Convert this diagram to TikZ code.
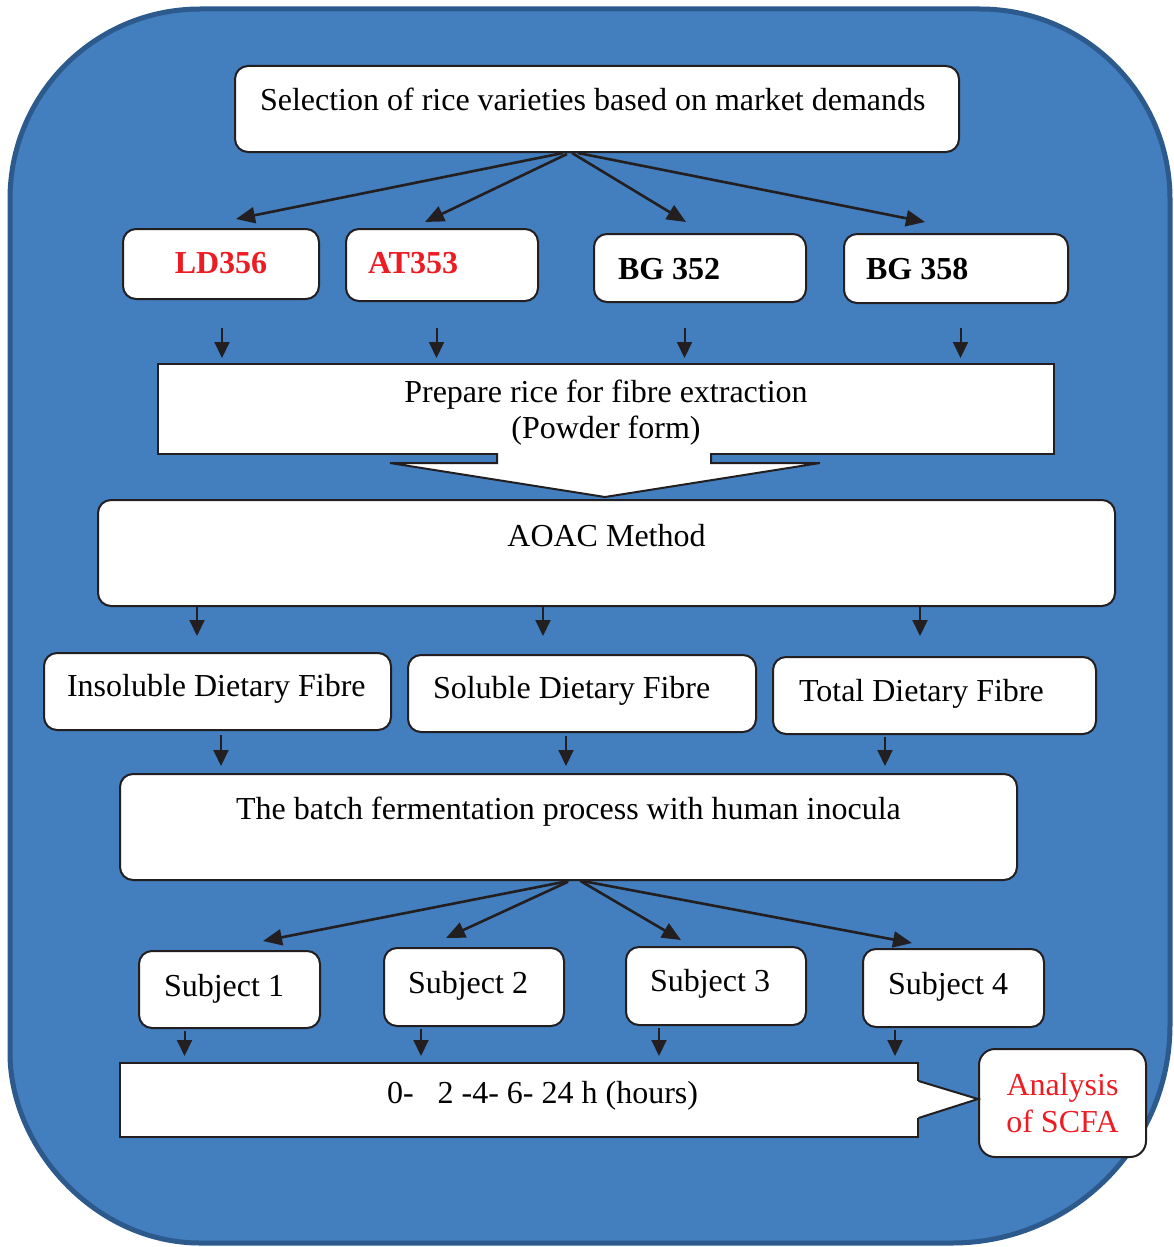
\documentclass[tikz,border=0pt]{standalone}
\usepackage{fontspec}
\setmainfont{Liberation Serif}
\usetikzlibrary{arrows.meta,calc}
\definecolor{panel}{RGB}{67,126,190}
\definecolor{panelrim}{RGB}{44,90,140}
\definecolor{ink}{RGB}{35,31,32}
\definecolor{hl}{RGB}{237,28,36}
\setlength{\parindent}{0pt}
% a single line set flush left in a field of fixed width
\newcommand{\leftcell}[2]{\makebox[#1][l]{#2}}

\begin{document}
\begin{tikzpicture}[x=1pt, y=-1pt,
  every node/.style={font=\fontsize{32}{36.5}\selectfont},
  vname/.style={font=\fontsize{32}{36.5}\selectfont\bfseries},
  box/.style={draw=ink, fill=white, line width=2pt, rounded corners=13pt,
    anchor=north west, inner ysep=0pt},
  sq/.style={box, sharp corners},
  lbox/.style n args={3}{inner xsep=#1, text height=#2, text depth=#3},
  cbox/.style n args={3}{minimum width=#1, inner xsep=0pt, text height=#2,
    text depth=#3},
  varr/.style={draw=ink, line width=2pt, -{Triangle[length=16pt,width=15pt]}},
  darr/.style={draw=ink, line width=2.6pt, -{Triangle[length=19pt,width=16pt]}},
]
\useasboundingbox (0,0) rectangle (1173,1247);
\fill[white] (0,0) rectangle (1173,1247);

% blue rounded panel
\path[fill=panel, draw=panelrim, line width=5pt]
  (200,9) -- (980,9) .. controls (1084.9,9) and (1170,94.1) .. (1170,199)
  -- (1170,1025) .. controls (1170,1145.4) and (1072.4,1243) .. (952,1243)
  -- (200,1243) .. controls (95.1,1243) and (10,1147.9) .. (10,1053)
  -- (10,199) .. controls (10,94.1) and (95.1,9) .. (200,9) -- cycle;

% boxes
\node[box, lbox={25pt}{44pt}{42pt}] (sel) at (234,65)
  {\leftcell{674pt}{Selection of rice varieties based on market demands}};

\node[box, vname, text=hl, cbox={196pt}{44pt}{26pt}] (ld) at (122,228) {LD356};
\node[box, vname, text=hl, lbox={22pt}{44pt}{28pt}] (at) at (345,228) {\leftcell{148pt}{AT353}};
\node[box, vname, lbox={24pt}{45pt}{23pt}] (bg2) at (593,233) {\leftcell{164pt}{BG 352}};
\node[box, vname, lbox={22pt}{45pt}{24pt}] (bg4) at (843,233) {\leftcell{180pt}{BG 358}};

\node[sq, minimum width=896pt, minimum height=90pt, align=center] (prep) at (157,363)
  {\rule{0pt}{30pt}Prepare rice for fibre extraction\\(Powder form)};

\node[box, cbox={1017pt}{46pt}{60pt}] (aoac) at (97,499) {AOAC Method};

\node[box, lbox={23pt}{43pt}{34pt}] (ins) at (43,652) {\leftcell{301pt}{Insoluble Dietary Fibre}};
\node[box, lbox={25pt}{43pt}{34pt}] (sol) at (407,654) {\leftcell{298pt}{Soluble Dietary Fibre}};
\node[box, lbox={26pt}{44pt}{33pt}] (tot) at (772,656) {\leftcell{271pt}{Total Dietary Fibre}};

\node[box, cbox={897pt}{45pt}{61pt}] (ferm) at (119,773)
  {The batch fermentation process with human inocula};

\node[box, lbox={25pt}{45pt}{32pt}] (s1) at (138,950) {\leftcell{131pt}{Subject 1}};
\node[box, lbox={24pt}{45pt}{33pt}] (s2) at (383,947) {\leftcell{132pt}{Subject 2}};
\node[box, lbox={24pt}{44pt}{34pt}] (s3) at (625,946) {\leftcell{132pt}{Subject 3}};
\node[box, lbox={25pt}{45pt}{33pt}] (s4) at (862,948) {\leftcell{131pt}{Subject 4}};

\node[sq, lbox={10pt}{40pt}{34pt}] (hrs) at (118.5,1062)
  {\leftcell{778pt}{\hspace*{257.5pt}0-\ \ \ 2 -4- 6- 24 h (hours)}};

\node[box, rounded corners=16pt, text=hl, minimum width=167pt, minimum height=108pt,
  inner xsep=0pt, align=center] (ana) at (978,1048) {Analysis\\of SCFA};

% block-arrow foot of the preparation box
\fill[white] (497,450) -- (497,463) -- (390,463) -- (605,497) -- (820,463)
  -- (711,463) -- (711,450) -- cycle;
\draw[ink, line width=2pt] (497,453) -- (497,463) -- (390,463) -- (605,497)
  -- (820,463) -- (711,463) -- (711,453);

% pointer from the time line to the analysis box
\fill[white] ($(hrs.east)+(-6,-18)$) -- ($(hrs.east)+(0,-19)$) -- ([yshift=4pt]ana.west)
  -- ($(hrs.east)+(0,18)$) -- ($(hrs.east)+(-6,17)$) -- cycle;
\draw[ink, line width=2pt] ($(hrs.east)+(0,-19)$) -- ([yshift=4pt]ana.west)
  -- ($(hrs.east)+(0,18)$);

% fan from the selection box
\draw[darr] ($(sel.south)+(-34,0)$) -- ($(ld.north)+(15,-9)$);
\draw[darr] ($(sel.south)+(-30,1)$) -- ($(at.north)+(-17,-6)$);
\draw[darr] ($(sel.south)+(-25,0)$) -- ($(bg2.north)+(-14,-11)$);
\draw[darr] ($(sel.south)+(-19,0)$) -- ($(bg4.north)+(-31,-11)$);

% varieties to preparation
\draw[varr, shorten <=28pt, shorten >=5pt] ($(ld.south)+(1,0)$) -- ($(ld.south |- prep.north)+(1,0)$);
\draw[varr, shorten <=26pt, shorten >=5pt] ($(at.south)+(-5.5,0)$) -- ($(at.south |- prep.north)+(-5.5,0)$);
\draw[varr, shorten <=25pt, shorten >=5pt] ($(bg2.south)+(-15.5,0)$) -- ($(bg2.south |- prep.north)+(-15.5,0)$);
\draw[varr, shorten <=24pt, shorten >=5pt] ($(bg4.south)+(4.5,0)$) -- ($(bg4.south |- prep.north)+(4.5,0)$);

% method to fibre fractions
\draw[varr, shorten >=16pt] ($(ins.north |- aoac.south)+(-20.5,0)$) -- ($(ins.north)+(-20.5,0)$);
\draw[varr, shorten >=18pt] ($(sol.north |- aoac.south)+(-39,0)$) -- ($(sol.north)+(-39,0)$);
\draw[varr, shorten >=20pt] ($(tot.north |- aoac.south)+(-14.5,0)$) -- ($(tot.north)+(-14.5,0)$);

% fibre fractions to fermentation
\draw[varr, shorten <=4pt, shorten >=7pt] ($(ins.south)+(3.5,0)$) -- ($(ins.south |- ferm.north)+(3.5,0)$);
\draw[varr, shorten <=3pt, shorten >=7pt] ($(sol.south)+(-16,0)$) -- ($(sol.south |- ferm.north)+(-16,0)$);
\draw[varr, shorten <=2pt, shorten >=7pt] ($(tot.south)+(-49.5,0)$) -- ($(tot.south |- ferm.north)+(-49.5,0)$);

% fan from the fermentation box
\draw[darr] ($(ferm.south)+(0,0)$) -- ($(s1.north)+(33.5,-9)$);
\draw[darr] ($(ferm.south)+(-1,1)$) -- ($(s2.north)+(-28,-9)$);
\draw[darr] ($(ferm.south)+(12,0)$) -- ($(s3.north)+(-35,-6)$);
\draw[darr] ($(ferm.south)+(14,0)$) -- ($(s4.north)+(-41.5,-5)$);

% subjects to sampling times
\draw[varr, shorten <=2pt, shorten >=6pt] ($(s1.south)+(-45,0)$) -- ($(s1.south |- hrs.north)+(-45,0)$);
\draw[varr, shorten <=2pt, shorten >=6pt] ($(s2.south)+(-53,0)$) -- ($(s2.south |- hrs.north)+(-53,0)$);
\draw[varr, shorten <=2pt, shorten >=6pt] ($(s3.south)+(-57,0)$) -- ($(s3.south |- hrs.north)+(-57,0)$);
\draw[varr, shorten <=2pt, shorten >=6pt] ($(s4.south)+(-58.5,0)$) -- ($(s4.south |- hrs.north)+(-58.5,0)$);
\end{tikzpicture}
\end{document}
